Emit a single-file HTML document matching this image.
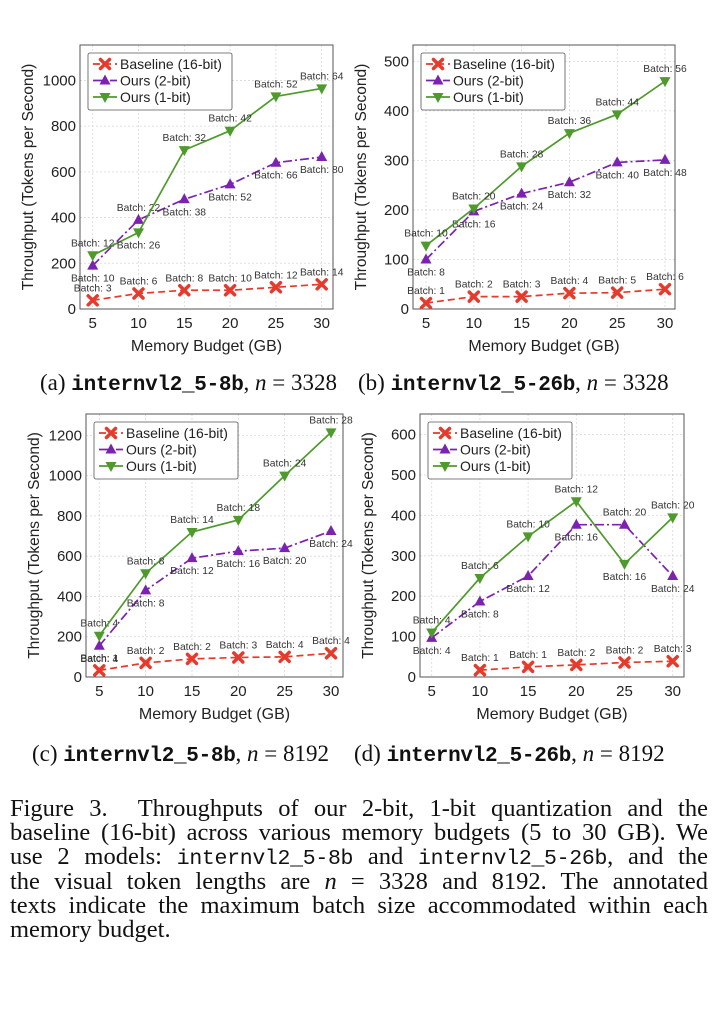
<!DOCTYPE html>
<html><head><meta charset="utf-8">
<style>
body{margin:0;background:#fff;width:720px;height:1020px;overflow:hidden;position:relative;font-family:"Liberation Sans",sans-serif}
svg{position:absolute;left:0;top:0}
.cap{position:absolute;font-family:"Liberation Serif",serif;font-size:23px;color:#111;white-space:nowrap}
.mono{font-family:"Liberation Mono",monospace;font-size:21px;font-weight:bold;letter-spacing:-0.3px}
#figcap{position:absolute;left:10px;top:797px;width:698px;font-family:"Liberation Serif",serif;font-size:24.5px;line-height:24.2px;color:#111}
#figcap div{text-align:justify;text-align-last:justify;white-space:nowrap;height:24.2px}
#figcap div.last{text-align-last:left}
#figcap .mono{font-size:21.5px;font-weight:normal;letter-spacing:-0.3px}
</style></head><body>
<svg id="chart" width="720" height="1020"></svg>
<div class="cap" style="left:40px;top:370px">(a) <span class="mono">internvl2_5-8b</span>, <i>n</i> = 3328</div>
<div class="cap" style="left:358px;top:370px">(b) <span class="mono">internvl2_5-26b</span>, <i>n</i> = 3328</div>
<div class="cap" style="left:32px;top:741px">(c) <span class="mono">internvl2_5-8b</span>, <i>n</i> = 8192</div>
<div class="cap" style="left:354px;top:741px">(d) <span class="mono">internvl2_5-26b</span>, <i>n</i> = 8192</div>
<div id="figcap">
<div>Figure 3.&nbsp; Throughputs of our 2-bit, 1-bit quantization and the</div>
<div>baseline (16-bit) across various memory budgets (5 to 30 GB). We</div>
<div>use 2 models: <span class="mono">internvl2_5-8b</span> and <span class="mono">internvl2_5-26b</span>, and the</div>
<div>the visual token lengths are <i>n</i> = 3328 and 8192. The annotated</div>
<div>texts indicate the maximum batch size accommodated within each</div>
<div class="last">memory budget.</div>
</div>
<script>
const categories=[5,10,15,20,25,30];
const seriesNames=["Baseline (16-bit)","Ours (2-bit)","Ours (1-bit)"];
const aBase=[38,68,82,82,95,108], aTwo=[190,390,480,545,640,665], aOne=[235,335,695,780,930,965];
const aBaseB=[3,6,8,10,12,14], aTwoB=[10,22,38,52,66,80], aOneB=[12,26,32,42,52,64];
const bBase=[12,25,25,32,33,40], bTwo=[100,197,233,256,296,301], bOne=[128,203,288,355,393,460];
const bBaseB=[1,2,3,4,5,6], bTwoB=[8,16,24,32,40,48], bOneB=[10,20,28,36,44,56];
const cBase=[33,70,90,97,100,118], cTwo=[155,430,590,625,640,725], cOne=[205,515,720,780,1000,1215];
const cBaseB=[1,2,2,3,4,4], cTwoB=[4,8,12,16,20,24], cOneB=[4,8,14,18,24,28];
const dBase=[null,17,25,30,36,39], dTwo=[97,187,250,377,377,250], dOne=[110,245,348,435,280,395];
const dBaseB=[null,1,1,2,2,3], dTwoB=[4,8,12,16,20,24], dOneB=[4,6,10,12,16,20];
const aTicks=[0,200,400,600,800,1000], bTicks=[0,100,200,300,400,500], cTicks=[0,200,400,600,800,1000,1200], dTicks=[0,100,200,300,400,500,600];
const xTicks=[5,10,15,20,25,30];

const NS="http://www.w3.org/2000/svg";
const svg=document.getElementById('chart');
function mk(tag,attrs,parent){const e=document.createElementNS(NS,tag);for(const k in attrs)e.setAttribute(k,attrs[k]);(parent||svg).appendChild(e);return e;}
const colors=["#e53a2c","#7b22b0","#4f9a2c"];
const dashes=["7,4","9,3,2,3",""];

function chart(id,box,ymax,yTicks,series,batches,labelPos){
  const g=mk('g',{});
  
  
  const [L,T,R,B,x5,x30]=box;
  const xs=v=>x5+(v-5)/25*(x30-x5);
  const ys=v=>B-v/ymax*(B-T);
  yTicks.forEach(t=>{const l=mk('line',{x1:L,x2:R,y1:ys(t),y2:ys(t),stroke:'#d8d8d8','stroke-dasharray':'2,2','stroke-width':0.8},g);
    
    const tx=mk('text',{x:L-4,y:ys(t)+5,'text-anchor':'end','font-size':15,fill:'#222'},g);tx.textContent=t;
    });
  xTicks.forEach(t=>{const l=mk('line',{x1:xs(t),x2:xs(t),y1:T,y2:B,stroke:'#d8d8d8','stroke-dasharray':'2,2','stroke-width':0.8},g);
    
    const tx=mk('text',{x:xs(t),y:B+19,'text-anchor':'middle','font-size':15,fill:'#222'},g);tx.textContent=t;
    });
  const fr=mk('rect',{x:L,y:T,width:R-L,height:B-T,fill:'none',stroke:'#555','stroke-width':1},g);
  
  const xt=mk('text',{x:(L+R)/2,y:B+42,'text-anchor':'middle','font-size':16,fill:'#222'},g);xt.textContent='Memory Budget (GB)';
  
  const yx=L-47, yy=(T+B)/2;
  const yt=mk('text',{x:yx,y:yy,'text-anchor':'middle','font-size':15.5,fill:'#222',transform:`rotate(-90 ${yx} ${yy})`},g);yt.textContent='Throughput (Tokens per Second)';
  
  series.forEach((vals,si)=>{
    const pts=[];vals.forEach((v,i)=>{if(v!==null)pts.push([xs(categories[i]),ys(v),i]);});
    const pl=mk('polyline',{points:pts.map(p=>p[0]+','+p[1]).join(' '),fill:'none',stroke:colors[si],'stroke-width':1.7,'stroke-dasharray':dashes[si]},g);
    
    pts.forEach(([x,y,i])=>{
      let m;
      if(si===0){m=mk('path',{d:`M${x-4.5},${y-4.5}L${x+4.5},${y+4.5}M${x+4.5},${y-4.5}L${x-4.5},${y+4.5}`,stroke:colors[0],'stroke-width':3.5,'stroke-linecap':'round'},g);}
      else if(si===1){m=mk('path',{d:`M${x},${y-6}L${x+5.5},${y+4}L${x-5.5},${y+4}Z`,fill:colors[1]},g);}
      else {m=mk('path',{d:`M${x},${y+6}L${x+5.5},${y-4}L${x-5.5},${y-4}Z`,fill:colors[2]},g);}
      
      const b=batches[si][i];
      const above=labelPos[si][i]==='a';
      const lt=mk('text',{x:x,y:above?y-9:y+16,'text-anchor':'middle','font-size':10.3,fill:'#333'},g);lt.textContent='Batch: '+b;
      
    });
  });
  const lx=L+8, ly=T+8;
  const lg=mk('rect',{x:lx,y:ly,width:144,height:57,fill:'#fff',stroke:'#555','stroke-width':0.8,rx:2},g);
  
  seriesNames.forEach((n,si)=>{
    const yy2=ly+11+si*16.5, cx=lx+17;
    const ln=mk('line',{x1:lx+5,x2:lx+29,y1:yy2,y2:yy2,stroke:colors[si],'stroke-width':1.7,'stroke-dasharray':dashes[si]},g);
    
    let m;
    if(si===0)m=mk('path',{d:`M${cx-4.5},${yy2-4.5}L${cx+4.5},${yy2+4.5}M${cx+4.5},${yy2-4.5}L${cx-4.5},${yy2+4.5}`,stroke:colors[0],'stroke-width':3.5,'stroke-linecap':'round'},g);
    else if(si===1)m=mk('path',{d:`M${cx},${yy2-6}L${cx+5.5},${yy2+4}L${cx-5.5},${yy2+4}Z`,fill:colors[1]},g);
    else m=mk('path',{d:`M${cx},${yy2+6}L${cx+5.5},${yy2-4}L${cx-5.5},${yy2-4}Z`,fill:colors[2]},g);
    
    const t=mk('text',{x:lx+32,y:yy2+5,'font-size':14,fill:'#222'},g);t.textContent=n;
    
  });
}
chart('a',[80,45,333,309,92.7,321.7],1155,aTicks,[aBase,aTwo,aOne],[aBaseB,aTwoB,aOneB],
  [['a','a','a','a','a','a'],['b','a','b','b','b','b'],['a','b','a','a','a','a']]);
chart('b',[413,45,675,309,426,665],533,bTicks,[bBase,bTwo,bOne],[bBaseB,bTwoB,bOneB],
  [['a','a','a','a','a','a'],['b','b','b','b','b','b'],['a','a','a','a','a','a']]);
chart('c',[86,414,343,677,99.3,331],1306,cTicks,[cBase,cTwo,cOne],[cBaseB,cTwoB,cOneB],
  [['a','a','a','a','a','a'],['b','b','b','b','b','b'],['a','a','a','a','a','a']]);
chart('d',[420,414,684,677,431.7,672.7],651,dTicks,[dBase,dTwo,dOne],[dBaseB,dTwoB,dOneB],
  [['a','a','a','a','a','a'],['b','b','b','b','a','b'],['a','a','a','a','b','a']]);
</script>
</body></html>
